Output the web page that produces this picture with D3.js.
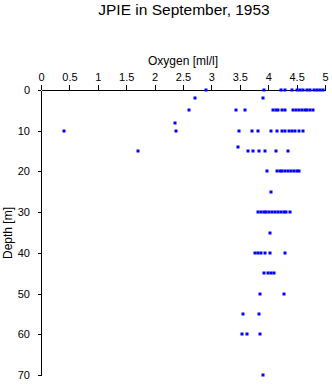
<!DOCTYPE html>
<html><head><meta charset="utf-8">
<script src="https://cdn.jsdelivr.net/npm/d3@7"></script>
<style>body{margin:0;background:#fff}svg{display:block}text{font-family:"Liberation Sans",Arial,sans-serif}</style>
</head><body>
<script>
const title = "JPIE in September, 1953";
const xLabel = "Oxygen [ml/l]";
const yLabel = "Depth [m]";
const xTicks = [0,0.5,1,1.5,2,2.5,3,3.5,4,4.5,5];
const yTicks = [0,10,20,30,40,50,60,70];
// depth levels and oxygen values observed at each
const depths = [0,2,5,8,10,14,15,20,25,30,35,40,45,50,55,60,70];
const oxygen = [
  [2.9,3.93,4.22,4.3,4.42,4.5,4.56,4.62,4.68,4.74,4.8,4.86,4.92,4.97],
  [2.71,3.91],
  [2.61,3.43,3.6,4.09,4.13,4.18,4.24,4.3,4.44,4.49,4.54,4.59,4.64,4.69,4.74,4.79],
  [2.36],
  [0.4,2.38,3.48,3.71,3.82,4.05,4.16,4.24,4.3,4.36,4.42,4.48,4.54,4.61],
  [3.46],
  [1.7,3.65,3.74,3.84,3.95,4.14,4.34],
  [3.98,4.15,4.2,4.25,4.3,4.35,4.4,4.45,4.5,4.55],
  [4.05],
  [3.82,3.87,3.92,3.97,4.02,4.07,4.12,4.17,4.22,4.27,4.31,4.39],
  [4.04],
  [3.77,3.82,3.88,3.94,4.04,4.3],
  [3.93,4.0,4.05,4.1],
  [3.86,4.28],
  [3.56,3.84],
  [3.53,3.63,3.86],
  [3.91]
];

const W = 332, H = 384;
const svg = d3.select("body").append("svg").attr("width", W).attr("height", H);
const x = d3.scaleLinear().domain([0,5]).range([41,325]);
const y = d3.scaleLinear().domain([0,70]).range([90,375]);

svg.append("text").attr("x",184).attr("y",15).attr("text-anchor","middle")
  .attr("font-size",15.5).attr("fill","#000").text(title);
svg.append("text").attr("x",183).attr("y",65).attr("text-anchor","middle")
  .attr("font-size",12).attr("fill","#000").text(xLabel);
svg.append("text").attr("transform","translate(12,233) rotate(-90)").attr("text-anchor","middle")
  .attr("font-size",12).attr("fill","#000").text(yLabel);

const xa = svg.append("g").attr("transform","translate(0,90)")
  .call(d3.axisTop(x).tickValues(xTicks).tickSize(5).tickSizeOuter(0).tickPadding(4).tickFormat(d3.format("")));
const ya = svg.append("g").attr("transform","translate(41,0)")
  .call(d3.axisLeft(y).tickValues(yTicks).tickSize(3).tickSizeOuter(0).tickPadding(8));
[xa,ya].forEach(g=>{
  g.selectAll("text").attr("font-size",11).attr("font-family","Liberation Sans, Arial, sans-serif").attr("fill","#000");
  g.selectAll("line,path").attr("stroke","#000").attr("shape-rendering","crispEdges");
});

const pts = [];
depths.forEach((d,i)=>oxygen[i].forEach(o=>pts.push({d,o})));
svg.append("g").selectAll("rect").data(pts).join("rect")
  .attr("x",p=>Math.round(x(p.o))-1.5).attr("y",p=>Math.round(y(p.d))-1.5)
  .attr("width",3).attr("height",3).attr("fill","#0000ff");
</script>
</body></html>
